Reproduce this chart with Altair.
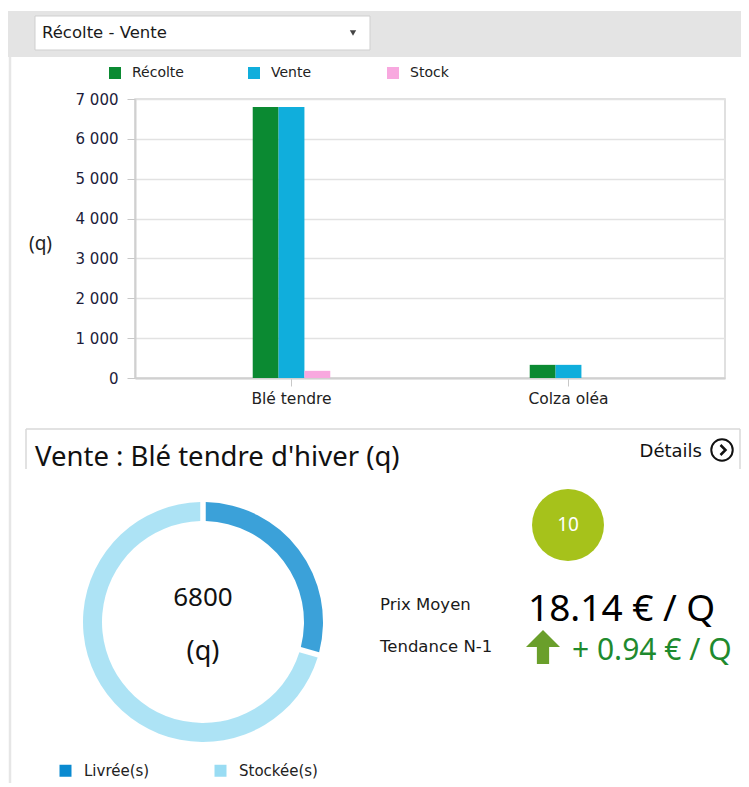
import altair as alt
import pandas as pd

# ---------------- data ----------------
categories = ["Blé tendre", "Colza oléa"]
series = ["Récolte", "Vente", "Stock"]
recolte = [6800, 330]
vente = [6800, 330]
stock = [180, 0]
series_colors = ["#0b8a32", "#10aedc", "#f8a8df"]
y_ticks = [0, 1000, 2000, 3000, 4000, 5000, 6000, 7000]
y_unit = "(q)"

donut_labels = ["Livrée(s)", "Stockée(s)"]
donut_values = [2000, 4800]
donut_colors = ["#0a8ad0", "#99dcf3"]
donut_total = "6800"
donut_unit = "(q)"

selector_label = "Récolte - Vente"
panel_title = "Vente : Blé tendre d'hiver (q)"
details_label = "Détails"
badge_value = "10"
price_label = "Prix Moyen"
price_value = "18.14 € / Q"
trend_label = "Tendance N-1"
trend_value = "+ 0.94 € / Q"

bar_rows = []
for i, c in enumerate(categories):
    for s, vals in zip(series, [recolte, vente, stock]):
        bar_rows.append({"categorie": c, "serie": s, "valeur": vals[i]})
bar_df = pd.DataFrame(bar_rows)
donut_df = pd.DataFrame({"part": donut_labels, "valeur": donut_values, "rang": list(range(len(donut_labels)))})

SMALL = "DejaVu Sans"
BIG = "Noto Sans"
one = alt.Data(values=[{}])


def rect(x, x2, y, y2, **kw):
    return alt.Chart(one).mark_rect(**kw).encode(
        x=alt.value(x), x2=alt.value(x2), y=alt.value(y), y2=alt.value(y2))


def rule(x, x2, y, y2, **kw):
    return alt.Chart(one).mark_rule(**kw).encode(
        x=alt.value(x), x2=alt.value(x2), y=alt.value(y), y2=alt.value(y2))


def label(text, x, y, **kw):
    return alt.Chart(alt.Data(values=[{"t": text}])).mark_text(**kw).encode(
        x=alt.value(x), y=alt.value(y), text="t:N")


def symbol(x, y, **kw):
    return alt.Chart(one).mark_point(**kw).encode(x=alt.value(x), y=alt.value(y))


# ---------------- decorations ----------------
header_band = rect(-127, 610, -88, -42, color="#e4e4e4")
dropdown = rect(-100, 235, -83, -49, fill="white", stroke="#cfcfcf", strokeWidth=1)
dropdown_text = label(selector_label, -93, -66, align="left", baseline="middle",
                      font=SMALL, fontSize=16.5, color="#1a1a1a")
dropdown_arrow = symbol(218, -66, shape="triangle-down", size=40, filled=True,
                        color="#444444", opacity=1)
left_line = rule(-125, -125, -42, 690, color="#e6e6e6", strokeWidth=2.5)
box_top = rule(-109, 605, 330, 330, color="#d8d8d8", strokeWidth=1.5)
box_left = rule(-109, -109, 330, 370, color="#d8d8d8", strokeWidth=1.5)
box_right = rule(605, 605, 330, 370, color="#d8d8d8", strokeWidth=1.5)

# ---------------- bar chart ----------------
bars = alt.Chart(bar_df).mark_bar().encode(
    x=alt.X("categorie:N", sort=categories,
            scale=alt.Scale(paddingInner=0.72, paddingOuter=0.425),
            axis=alt.Axis(title=None, labelAngle=0, labelFont=SMALL, labelFontSize=15.5,
                          labelColor="#222222", tickColor="#c8c8c8", tickSize=8,
                          domainColor="#d0d0d0", domainWidth=2, labelPadding=5, grid=False)),
    xOffset=alt.XOffset("serie:N", sort=series,
                        scale=alt.Scale(paddingInner=0, paddingOuter=0)),
    y=alt.Y("valeur:Q", scale=alt.Scale(domain=[0, 7000], nice=False),
            axis=alt.Axis(values=y_ticks, title=y_unit, titleAngle=0, titleX=-95, titleY=144,
                          titleAlign="center", titleBaseline="middle", titleFont=BIG,
                          titleFontSize=19, titleFontWeight="normal", titleColor="#222222",
                          labelExpr="replace(format(datum.value, ','), ',', ' ')",
                          labelFont=SMALL, labelFontSize=15, labelColor="#1c1c3a",
                          tickColor="#c8c8c8", tickSize=8, labelPadding=9,
                          domainColor="#d0d0d0", domainWidth=2,
                          gridColor="#e2e2e2", gridWidth=1.5)),
    color=alt.Color("serie:N", sort=series,
                    scale=alt.Scale(domain=series, range=series_colors),
                    legend=alt.Legend(title=None, orient="none", legendX=-27, legendY=-33,
                                      direction="horizontal", columns=3, gridAlign="all",
                                      columnPadding=63, symbolType="square", symbolSize=144,
                                      symbolStrokeWidth=0, labelFont=SMALL, labelFontSize=14,
                                      labelColor="#222222", labelOffset=10)),
)

# ---------------- donut ----------------
donut = alt.Chart(donut_df).mark_arc(outerRadius=120, innerRadius=101, padAngle=0.035,
                                     opacity=0.8).encode(
    theta=alt.Theta("valeur:Q", stack=True),
    color=alt.Color("part:N", sort=donut_labels,
                    scale=alt.Scale(domain=donut_labels, range=donut_colors),
                    legend=alt.Legend(title=None, orient="none", legendX=-77, legendY=664,
                                      direction="horizontal", columns=2, gridAlign="all",
                                      columnPadding=50, symbolType="square", symbolSize=144,
                                      symbolStrokeWidth=0, symbolOpacity=1, labelFont=SMALL,
                                      labelFontSize=15, labelColor="#222222", labelOffset=11)),
    order=alt.Order("rang:Q"),
    x=alt.value(68),
    y=alt.value(523),
)

# ---------------- texts ----------------
title_text = label(panel_title, -100, 367, align="left", baseline="alphabetic",
                   font=BIG, fontSize=27.5, color="#111111")
details_text = label(details_label, 567, 358, align="right", baseline="alphabetic",
                     font=SMALL, fontSize=18, color="#111111")
details_circle = symbol(587, 351, shape="circle", size=460, filled=False,
                        stroke="#111111", strokeWidth=2, opacity=1)
details_chevron = symbol(588, 351, shape="M-0.25,-0.5L0.25,0L-0.25,0.5", size=400,
                         filled=False, stroke="#111111", strokeWidth=2.5, opacity=1)
center_value = label(donut_total, 68, 499, align="center", baseline="middle",
                     font=BIG, fontSize=26, color="#111111")
center_unit = label(donut_unit, 68, 553, align="center", baseline="middle",
                    font=BIG, fontSize=27, color="#111111")
badge = symbol(433, 426, shape="circle", size=5184, filled=True, color="#a6c21b", opacity=1)
badge_text = label(badge_value, 433, 426, align="center", baseline="middle",
                   font=BIG, fontSize=19, color="white")
price_lbl = label(price_label, 245, 506, align="left", baseline="middle",
                  font=SMALL, fontSize=16.5, color="#1a1a1a")
price_val = label(price_value, 393, 522, align="left", baseline="alphabetic",
                  font=BIG, fontSize=37, color="#000000")
trend_lbl = label(trend_label, 245, 548, align="left", baseline="middle",
                  font=SMALL, fontSize=16.5, color="#1a1a1a")
trend_arrow = symbol(408, 548, shape="M0,-1L1,0L0.36,0L0.36,1L-0.36,1L-0.36,0L-1,0Z",
                     size=1156, filled=True, color="#6a9f2b", opacity=1, strokeWidth=0)
trend_val = label(trend_value, 437, 561, align="left", baseline="alphabetic",
                  font=BIG, fontSize=30, color="#1f8a2e")

chart = alt.layer(
    header_band, dropdown, dropdown_text, dropdown_arrow, left_line,
    box_top, box_left, box_right,
    bars, donut,
    title_text, details_text, details_circle, details_chevron,
    center_value, center_unit, badge, badge_text,
    price_lbl, price_val, trend_lbl, trend_arrow, trend_val,
).resolve_scale(color="independent").properties(
    width=590, height=279,
    autosize=alt.AutoSizeParams(type="none"),
    padding={"left": 127, "top": 91, "right": 16, "bottom": 405},
).configure_view(stroke="#d6d6d6", strokeWidth=1.5)

chart.save("out.html", embed_options={"renderer": "svg", "actions": False})
